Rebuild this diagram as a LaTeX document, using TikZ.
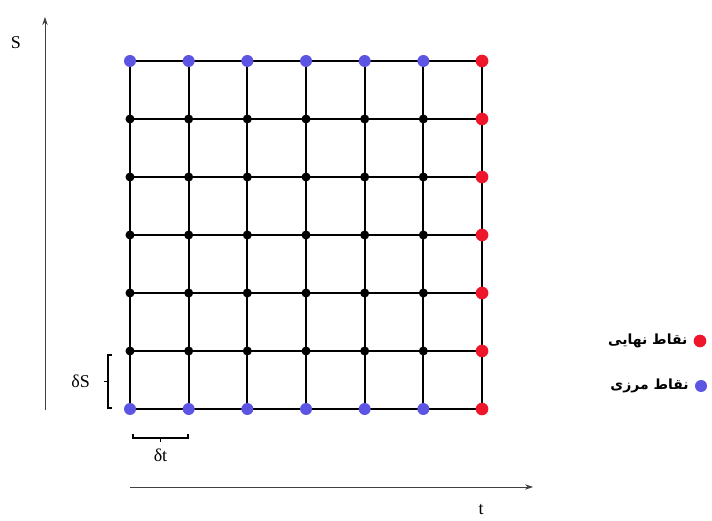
\documentclass[tikz,border=0pt]{standalone}
\usepackage{fontspec}
\setmainfont{Liberation Serif}
\newfontfamily\arabicfont[Script=Arabic]{DejaVu Sans}
\TeXXeTstate=1
\usepackage{xcolor}
\usepackage{tikz}
\usetikzlibrary{arrows.meta, positioning, calc}
\definecolor{bnddot}{RGB}{92,84,226}
\definecolor{enddot}{RGB}{238,22,42}

\begin{document}
\begin{tikzpicture}[
    x=0.75pt, y=0.75pt,
    dot/.style={circle, fill=black, inner sep=0pt, minimum size=6.8pt},
    bnd/.style={dot, fill=bnddot, minimum size=9pt},
    fin/.style={dot, fill=enddot, minimum size=9.5pt},
    gridline/.style={line width=1.4pt},
    axis/.style={line width=0.6pt, black!75, -{Stealth[length=6pt, width=4pt]}},
    bracket/.style={line width=0.9pt},
    lbl/.style={font=\fontsize{13.5}{15}\selectfont},
    legtext/.style={font=\arabicfont\bfseries\fontsize{10.5}{12}\selectfont},
    node distance=1pt
]
\useasboundingbox (0,0) rectangle (712,520);

% grid points
\foreach \i in {0,...,6}
  \foreach \j in {0,...,6}
    \coordinate (g-\i-\j) at ({130+58.67*\i},{111+58*\j});

% grid lines
\foreach \k in {0,...,6} {
  \draw[gridline] (g-0-\k) -- (g-6-\k);
  \draw[gridline] (g-\k-0) -- (g-\k-6);
}

% inner, boundary and final points
\foreach \i in {0,...,5}
  \foreach \j in {1,...,5}
    \node[dot] (p-\i-\j) at (g-\i-\j) {};
\foreach \i in {0,...,5} {
  \node[bnd] (p-\i-0) at (g-\i-0) {};
  \node[bnd] (p-\i-6) at (g-\i-6) {};
}
\foreach \j in {0,...,6}
  \node[fin] (p-6-\j) at (g-6-\j) {};

% axes
\coordinate (s0) at (45,110);
\coordinate (s1) at (45,503);
\coordinate (t0) at (130,33);
\coordinate (t1) at (533,33);
\draw[axis] (s0) -- (s1);
\draw[axis] (t0) -- (t1);
\node[lbl] (slab) at (16,477) {S};
\node[lbl] (tlab) at (481,10) {t};

% step brackets
\coordinate (dsTop) at (112,165);
\coordinate (dsBot) at (112,112);
\draw[bracket] (dsTop) -- ++(-4,0) -- ($(dsBot)+(-4,0)$) -- (dsBot);
\draw[bracket] ($(dsTop)!0.5!(dsBot)+(-4,0)$) -- ++(-4,0) coordinate (dsTip);
\node[lbl, left=7pt of dsTip] (dslab) {δS};

\coordinate (dtL) at (133,86);
\coordinate (dtR) at (188,86);
\draw[bracket] (dtL) -- ++(0,-4) -- ($(dtR)+(0,-4)$) -- (dtR);
\draw[bracket] ($(dtL)!0.5!(dtR)+(0,-4)$) -- ++(0,-4) coordinate (dtTip);
\node[lbl, below=2pt of dtTip] (dtlab) {δt};

% legend
\node[fin] (legfin) at (700,179) {};
\node[bnd] (legbnd) at (701,134) {};
\node[legtext, left=of legfin] (finlab) {\beginR نقاط نهایی\endR};
\node[legtext, left=of legbnd] (bndlab) {\beginR نقاط مرزی\endR};
\end{tikzpicture}
\end{document}
